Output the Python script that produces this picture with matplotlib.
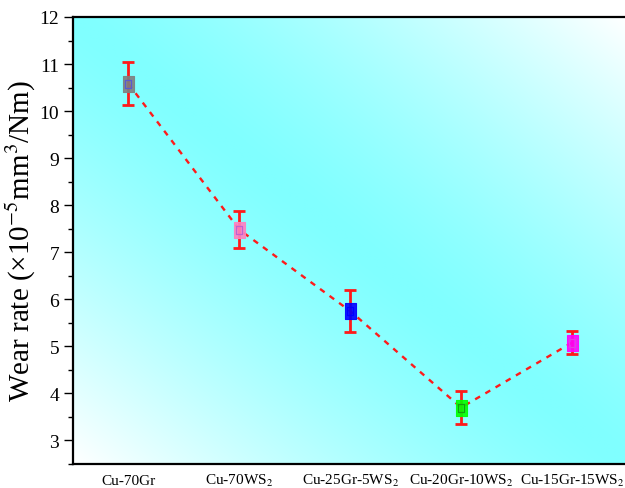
import numpy as np
import matplotlib
matplotlib.use("Agg")
import matplotlib.pyplot as plt
from matplotlib.colors import LinearSegmentedColormap
from matplotlib.ticker import MultipleLocator

plt.rcParams['font.family'] = ['Liberation Serif', 'DejaVu Serif']
plt.rcParams['mathtext.fontset'] = 'stix'

# Wear-rate data per composite
samples = ["Cu-70Gr", "Cu-70WS$_2$", "Cu-25Gr-5WS$_2$", "Cu-20Gr-10WS$_2$", "Cu-15Gr-15WS$_2$"]
wear_rate = [10.58, 7.48, 5.75, 3.70, 5.08]
wear_err = [0.46, 0.39, 0.45, 0.36, 0.25]
face_colors = ["#7f7f7f", "#ff80c0", "#0000ff", "#00ff00", "#ff00ff"]
inner_colors = ["#5a5ad0", "#c060d0", "#0000ff", "#10a010", "#e040e0"]

fig = plt.figure(figsize=(6.25, 4.89), dpi=100)
ax = fig.add_axes([73 / 625, 1 - 465 / 489, (627.5 - 73) / 625, (465 - 18) / 489])

# Diagonal background: cyan along the main diagonal, fading to white toward the other corners
nx, ny = 400, 400
xx, yy = np.meshgrid(np.linspace(0, 1, nx), np.linspace(0, 1, ny))
t = np.clip(np.abs(xx - yy), 0, 1) ** 1.35
cmap = LinearSegmentedColormap.from_list("bg", ["#80ffff", "#ffffff"])
ax.imshow(t, cmap=cmap, vmin=0, vmax=1, extent=[0, 1, 0, 1], transform=ax.transAxes,
          aspect='auto', zorder=0, interpolation='bilinear', origin='upper')

x = np.arange(len(samples))
ax.plot(x, wear_rate, linestyle=(0, (2.4, 2.6)), color="#ff1a1a", linewidth=1.7, zorder=2)
ax.errorbar(x, wear_rate, yerr=wear_err, fmt='none', ecolor="#ff1a1a", elinewidth=2.0,
            capsize=4.5, capthick=2.0, zorder=3)

rect = [(-0.36, -0.5), (0.36, -0.5), (0.36, 0.5), (-0.36, 0.5), (-0.36, -0.5)]
for xi, yi, fc, ic in zip(x, wear_rate, face_colors, inner_colors):
    ax.plot([xi], [yi], marker=rect, markersize=11, markerfacecolor=fc,
            markeredgecolor=fc, markeredgewidth=0.8, alpha=0.9, linestyle='none', zorder=4)
    ax.plot([xi], [yi], marker=rect, markersize=6, markerfacecolor='none',
            markeredgecolor=ic, markeredgewidth=0.9, linestyle='none', zorder=5)

ax.set_xlim(-0.5, 4.5)
ax.set_ylim(2.5, 12)
ax.set_xticks(x)
ax.set_xticklabels(samples, fontsize=11)
ax.tick_params(axis='x', length=0, pad=14.5)
for lbl in ax.get_xticklabels():
    lbl.set_verticalalignment('baseline')
ax.yaxis.set_major_locator(MultipleLocator(1))
ax.yaxis.set_minor_locator(MultipleLocator(0.5))
ax.set_yticks(np.arange(3, 13, 1))
ax.tick_params(axis='y', which='major', length=6.5, width=1.0, labelsize=14, direction='out')
ax.tick_params(axis='y', which='minor', length=3.5, width=1.0, direction='out')
ax.set_ylabel("Wear rate (×10$^{-5}$mm$^3$/Nm)", fontsize=21, labelpad=1)

for side in ['left', 'bottom', 'top', 'right']:
    ax.spines[side].set_linewidth(1.6)
    ax.spines[side].set_zorder(6)

fig.savefig("out.png", dpi=100)
